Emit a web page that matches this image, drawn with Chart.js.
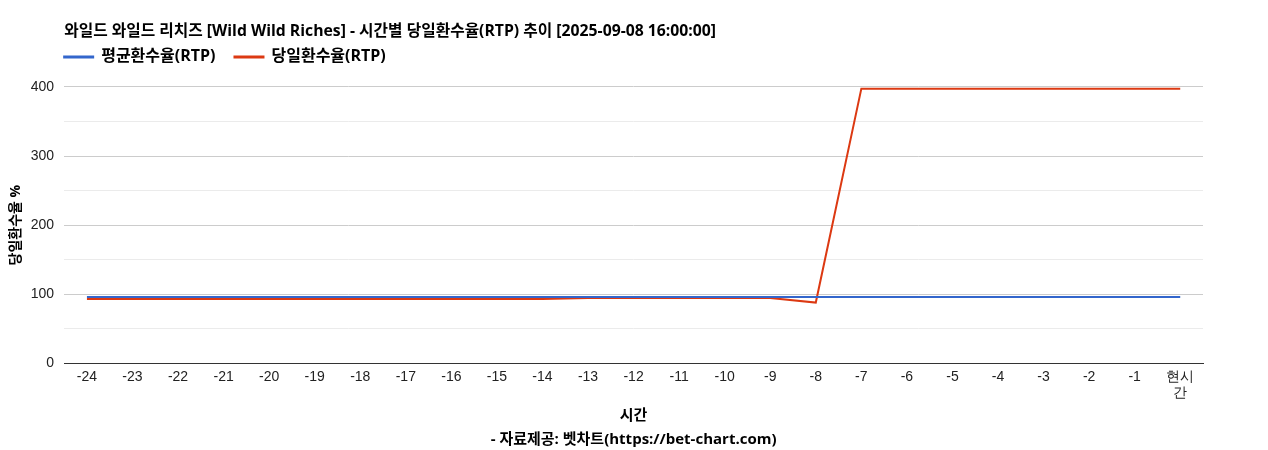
<!DOCTYPE html>
<html>
<head>
<meta charset="utf-8">
<script src="https://cdn.jsdelivr.net/npm/chart.js@4/dist/chart.umd.min.js"></script>
<style>
  html, body { margin: 0; padding: 0; background: #fff; }
  #wrap { width: 1268px; height: 450px; }
</style>
</head>
<body>
<div id="wrap"><canvas id="chart-rtp" width="1268" height="450"></canvas></div>
<script>
// hours before now, last one is "now"
const hours = ['-24', '-23', '-22', '-21', '-20', '-19', '-18', '-17', '-16', '-15', '-14', '-13',
    '-12', '-11', '-10', '-9', '-8', '-7', '-6', '-5', '-4', '-3', '-2', '-1', ['현시', '간']];

const avgRtp = [96, 96, 96, 96, 96, 96, 96, 96, 96, 96, 96, 96,
    96, 96, 96, 96, 96, 96, 96, 96, 96, 96, 96, 96, 96];

const dailyRtp = [93, 93, 93, 93, 93, 93, 93, 93, 93, 93, 93, 94.5,
    94.5, 94.5, 94.5, 94.5, 88, 397.5, 397.5, 397.5, 397.5, 397.5, 397.5, 397.5, 397.5];

const yTicks = [0, 100, 200, 300, 400];

const TICK_FONT = '"Liberation Sans", Arial, sans-serif';
const BOLD_FONT = '"Open Sans", "Noto Sans CJK KR", sans-serif';
const LEGEND_GAP = 19;

// legend items start flush with the plot's left edge, closer to the title
const legendShift = {
    id: 'legendShift',
    beforeInit(chart) {
        const fit = chart.legend.fit;
        chart.legend.fit = function () {
            fit.bind(this)();
            this.height += 1;
        };
    },
    afterLayout(chart) {
        chart.legend.left -= LEGEND_GAP;
        chart.legend.top -= 11;
    },
};

const canvas = document.getElementById('chart-rtp');

new Chart(canvas, {
    type: 'line',
    data: {
        labels: hours,
        datasets: [
            {
                label: '평균환수율(RTP)',
                data: avgRtp,
                borderColor: '#3366cc',
                backgroundColor: '#3366cc',
                borderWidth: 2,
                pointRadius: 0,
                tension: 0,
                fill: false,
            },
            {
                label: '당일환수율(RTP)',
                data: dailyRtp,
                borderColor: '#dc3912',
                backgroundColor: '#dc3912',
                borderWidth: 2,
                pointRadius: 0,
                tension: 0,
                fill: false,
            },
        ],
    },
    plugins: [legendShift],
    options: {
        responsive: false,
        animation: false,
        layout: { padding: { left: 0, right: 65, top: 0, bottom: 0 } },
        plugins: {
            title: {
                display: true,
                text: '와일드 와일드 리치즈 [Wild Wild Riches] - 시간별 당일환수율(RTP) 추이 [2025-09-08 16:00:00]',
                align: 'start',
                fullSize: false,
                color: '#000',
                font: { family: BOLD_FONT, size: 15.75, weight: 'bold' },
                padding: { top: 22, bottom: 0 },
            },
            legend: {
                display: true,
                position: 'top',
                align: 'start',
                fullSize: false,
                labels: {
                    color: '#000',
                    boxWidth: 29,
                    boxHeight: 1,
                    padding: LEGEND_GAP,
                    font: { family: BOLD_FONT, size: 16, weight: 'bold' },
                },
            },
            tooltip: { enabled: false },
        },
        scales: {
            x: {
                offset: true,
                grid: { display: false, drawTicks: false },
                border: { color: '#333', width: 1 },
                ticks: {
                    color: '#222',
                    font: { family: TICK_FONT, size: 14 },
                    padding: 5,
                    maxRotation: 0,
                    autoSkip: false,
                },
                title: {
                    display: true,
                    text: ['시간', '- 자료제공: 벳차트(https://bet-chart.com)'],
                    color: '#000',
                    font: { family: BOLD_FONT, size: 15, weight: 'bold', lineHeight: 1.6 },
                    padding: { top: -3, bottom: -2 },
                },
            },
            y: {
                min: 0,
                max: 400,
                grid: {
                    drawTicks: false,
                    color: ctx => (ctx.tick.value % 100 === 0 ? '#cccccc' : '#ebebeb'),
                },
                border: { display: false },
                afterBuildTicks: axis => {
                    const t = [];
                    for (let v = 0; v <= 400; v += 50) t.push({ value: v });
                    axis.ticks = t;
                },
                ticks: {
                    color: '#222',
                    font: { family: TICK_FONT, size: 14 },
                    padding: 10,
                    callback: v => (yTicks.includes(v) ? v : ''),
                },
                title: {
                    display: true,
                    text: '당일환수율 %',
                    color: '#000',
                    font: { family: BOLD_FONT, size: 14, weight: 'bold' },
                    padding: { top: 8, bottom: -4 },
                },
            },
        },
    },
});
</script>
</body>
</html>
